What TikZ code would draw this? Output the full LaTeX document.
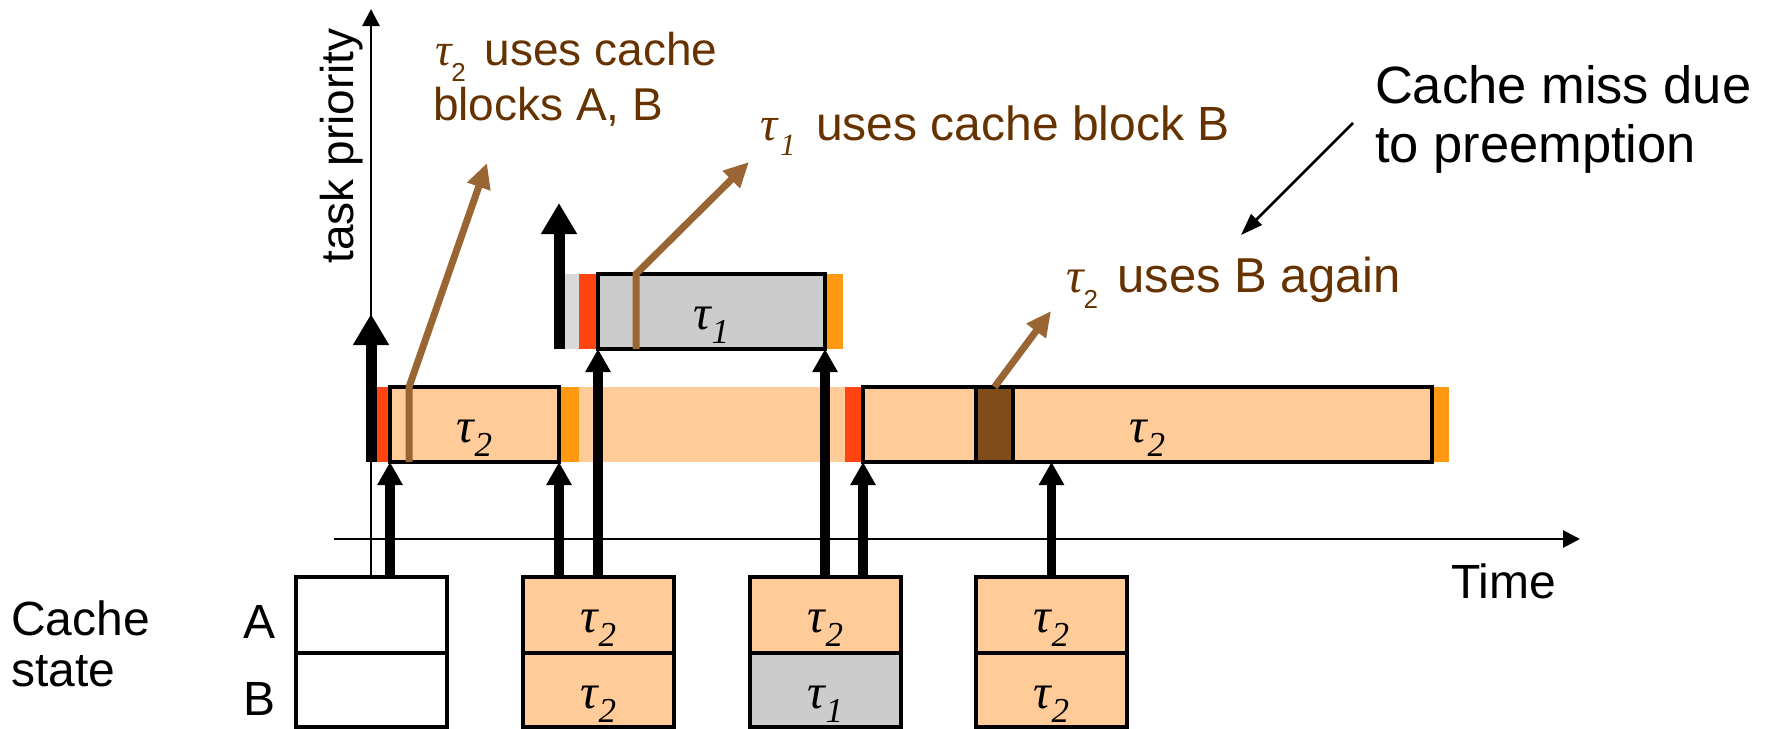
\documentclass[tikz,border=0pt]{standalone}
\usepackage{fontspec}
\setmainfont{Liberation Sans}
\newfontfamily\greekserif{Liberation Serif}
\usetikzlibrary{arrows.meta}

\definecolor{peach}{RGB}{255,204,153}
\definecolor{cred}{RGB}{255,68,17}
\definecolor{corange}{RGB}{255,153,17}
\definecolor{cgray}{RGB}{204,204,204}
\definecolor{lgray}{RGB}{217,217,217}
\definecolor{barrow}{RGB}{153,102,51}
\definecolor{bblock}{RGB}{128,77,26}
\definecolor{btext}{RGB}{102,51,0}

% task name inside boxes: italic tau with italic subscript
\newcommand{\taulab}[1]{{\greekserif\itshape\fontsize{49}{49}\selectfont τ\raisebox{-14pt}[0pt][0pt]{\fontsize{35}{35}\selectfont #1}}}
% task name in annotations: italic tau with upright sans subscript
\newcommand{\tauann}[1]{{\greekserif\itshape τ}\raisebox{-16pt}[0pt][0pt]{\fontsize{26}{26}\selectfont #1}\kern6pt\relax}
% task name in annotations with italic subscript
\newcommand{\tauannit}[1]{{\greekserif\itshape τ\kern3pt\raisebox{-15pt}[0pt][0pt]{\fontsize{31}{31}\selectfont #1}}\kern7pt\relax}

\begin{document}
\begin{tikzpicture}[x=1pt,y=-1pt,
  every node/.style={inner sep=0pt,outer sep=0pt},
  taskbox/.style={draw=black,line width=3.5pt,fill=peach,minimum height=75pt,anchor=north west},
  cellbox/.style={draw=black,line width=3.5pt,minimum width=151pt,minimum height=76pt,anchor=north west},
  taulabel/.style={anchor=base},
  plain/.style={font=\fontsize{48}{58}\selectfont,anchor=base west},
  annot/.style={text=btext,anchor=base west},
  note/.style={font=\fontsize{52.5}{62}\selectfont,anchor=base west},
  axisline/.style={line width=2.8pt,-{Triangle[width=17pt,length=17pt]}},
  release/.style={line width=11pt,-{Triangle[width=34pt,length=31pt]}},
  access/.style={line width=9.5pt,-{Triangle[width=24pt,length=23pt]}},
  usearrow/.style={draw=barrow,line width=7pt,-{Triangle[width=23pt,length=25pt]}},
  notearrow/.style={line width=2.6pt,-{Triangle[width=15pt,length=22pt]}}
]
\useasboundingbox (0,0) rectangle (1771,728);

% context-switch strips and the idle band of the preempted job
\fill[cred] (376,387) rectangle (390,462);
\fill[corange] (559,387) rectangle (579,462);
\fill[peach] (579,387) rectangle (845,462);
\fill[cred] (845,387) rectangle (863,462);
\fill[corange] (1432,387) rectangle (1449,462);
\fill[lgray] (564,274) rectangle (579,349);
\fill[cred] (579,274) rectangle (598,349);
\fill[corange] (825,274) rectangle (843,349);

% task execution boxes
\node[taskbox,minimum width=169pt] (t2a) at (390,387) {};
\node[taskbox,minimum width=227pt,fill=cgray] (t1) at (598,274) {};
\node[taskbox,minimum width=569pt] (t2b) at (863,387) {};
\node[taskbox,minimum width=37pt,fill=bblock] (blk) at (976,387) {};

\node[taulabel] (l2a) at ([yshift=-55pt]t2a.north) {\taulab{2}};
\node[taulabel] (l1) at ([yshift=-55pt]t1.north) {\taulab{1}};
\node[taulabel] (l2b) at ([yshift=-55pt]t2b.north) {\taulab{2}};

% cache state snapshots
\node[cellbox] (c1a) at (296,577) {};
\node[cellbox,minimum height=74pt] (c1b) at (296,653) {};
\node[cellbox,fill=peach] (c2a) at (523,577) {};
\node[cellbox,fill=peach,minimum height=74pt] (c2b) at (523,653) {};
\node[cellbox,fill=peach] (c3a) at (750,577) {};
\node[cellbox,fill=cgray,minimum height=74pt] (c3b) at (750,653) {};
\node[cellbox,fill=peach] (c4a) at (976,577) {};
\node[cellbox,fill=peach,minimum height=74pt] (c4b) at (976,653) {};

\node[taulabel] (c2al) at ([yshift=-55pt]c2a.north) {\taulab{2}};
\node[taulabel] (c2bl) at ([yshift=-55pt]c2b.north) {\taulab{2}};
\node[taulabel] (c3al) at ([yshift=-55pt]c3a.north) {\taulab{2}};
\node[taulabel] (c3bl) at ([yshift=-55pt]c3b.north) {\taulab{1}};
\node[taulabel] (c4al) at ([yshift=-55pt]c4a.north) {\taulab{2}};
\node[taulabel] (c4bl) at ([yshift=-55pt]c4b.north) {\taulab{2}};

% axes
\coordinate (ptop) at (371,9);
\draw[axisline] (c1a.north -| ptop) -- (ptop);
\coordinate (tstart) at (334,539);
\coordinate (tend) at (1580,539);
\draw[axisline] (tstart) -- (tend);

% job releases
\coordinate (r2top) at (371,314);
\draw[release] (t2a.south -| r2top) -- (r2top);
\coordinate (r1top) at (559,203);
\draw[release] (t1.south -| r1top) -- (r1top);

% cache state at each event
\draw[access] (c1a.north -| t2a.south west) -- (t2a.south west);
\draw[access] (c2a.north -| t2a.south east) -- (t2a.south east);
\draw[access] (c2a.north -| t1.south west) -- (t1.south west);
\draw[access] (c3a.north -| t1.south east) -- (t1.south east);
\draw[access] (c3a.north -| t2b.south west) -- (t2b.south west);
\draw[access] (c4a.north) -- (c4a.north |- t2b.south);

% cache block uses
\coordinate (u1tip) at (487,163);
\coordinate (u2tip) at (749,162);
\coordinate (u3tip) at (1051,311);
\draw[usearrow] ([xshift=19pt]t2a.south west) -- ([xshift=19pt]t2a.north west) -- (u1tip);
\draw[usearrow] ([xshift=38pt]t1.south west) -- ([xshift=38pt]t1.north west) -- (u2tip);
\draw[usearrow] (blk.north) -- (u3tip);

% annotation pointer
\coordinate (nfrom) at (1353,123);
\coordinate (nto) at (1241,235);
\draw[notearrow] (nfrom) -- (nto);

% texts
\node[annot,font=\fontsize{46}{55}\selectfont] (a1l1) at (435,65) {\tauann{2} uses cache};
\node[annot,font=\fontsize{46}{55}\selectfont] (a1l2) at (433,120) {blocks A, B};
\node[annot,font=\fontsize{48}{58}\selectfont] (a2) at (760,140) {\tauannit{1} uses cache block B};
\node[annot,font=\fontsize{49}{59}\selectfont] (a3) at (1066,292) {\tauann{2} uses B again};
\node[note] (n1) at (1375,103) {Cache miss due};
\node[note] (n2) at (1375,162) {to preemption};
\node[plain] (time) at (1451,598) {Time};
\node[plain] (cs1) at (11,635) {Cache};
\node[plain] (cs2) at (11,686) {state};
\node[plain] (la) at (243,638) {A};
\node[plain] (lb) at (243,715) {B};
\node[font=\fontsize{46}{55}\selectfont,rotate=90,anchor=base] (prio) at (353,146) {task priority};
\end{tikzpicture}
\end{document}
